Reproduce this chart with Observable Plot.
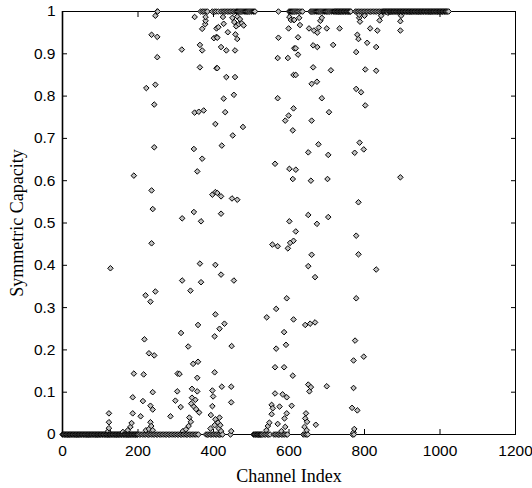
<!DOCTYPE html>
<html>
<head>
<meta charset="utf-8">
<script src="https://cdn.jsdelivr.net/npm/d3@7"></script>
<script src="https://cdn.jsdelivr.net/npm/@observablehq/plot@0.6"></script>
<style>
  html, body { margin: 0; padding: 0; background: #fff; }
  #chart svg { display: block; font-family: "Liberation Sans", Arial, sans-serif; }
  g[aria-label="x-axis label"] text, g[aria-label="y-axis label"] text {
    font-family: "Liberation Serif", "Times New Roman", serif; font-size: 18px;
  }
  g[aria-label="x-axis tick label"] text, g[aria-label="y-axis tick label"] text { font-size: 15.5px; }
</style>
</head>
<body>
<div id="chart"></div>
<script>
// Channel indices whose symmetric capacity sits at 0
const zeroIndex = [0,2,4,6,8,10,12,14,16,18,20,22,24,26,28,30,32,34,36,38,40,42,44,46,48,50,52,54,56,58,60,62,64,66,68,70,72,74,76,78,80,82,84,86,88,90,92,94,96,98,100,102,104,106,108,110,112,114,116,118,120,122,124,126,128,130,132,134,136,138,140,142,144,146,148,150,152,154,156,158,160,162,164,166,168,170,172,174,176,178,180,182,184,186,188,190,192,194,196,198,200,204,208,212,216,220,224,228,232,236,240,244,248,252,256,260,264,268,272,276,280,284,288,292,296,300,304,308,312,316,320,324,328,332,336,340,344,348,352,356,360,380,384,388,392,396,400,404,408,412,416,420,424,445,506,508,510,512,514,516,518,520,522,524,526,528,530,534,538,542,546,550,560,564,568,572,576,580,584,588,592,596,638,642,646,650,768,772];

// Channel indices whose symmetric capacity sits at 1
const oneIndex = [251,252,366,371,375,380,384,397,403,407,413,420,425,429,433,437,441,445,449,453,457,461,463,466,469,472,475,478,481,484,487,490,493,496,499,502,505,508,510,572,600,603,606,609,612,615,618,621,624,628,632,636,657,660,663,666,669,672,675,678,681,684,687,690,693,696,699,702,705,708,711,714,717,720,722,724,726,728,730,732,734,736,738,740,742,744,746,748,750,752,754,756,758,760,762,764,776,780,784,788,792,796,800,804,808,812,816,820,824,828,832,836,840,844,848,850,852,854,856,858,860,862,864,866,868,870,872,874,876,878,880,882,884,886,888,890,892,894,896,898,900,902,904,906,908,910,912,914,916,918,920,922,924,926,928,930,932,934,936,938,940,942,944,946,948,950,952,954,956,958,960,962,964,966,968,970,972,974,976,978,980,982,984,986,988,990,992,994,996,998,1000,1002,1004,1006,1008,1010,1012,1014,1016,1018,1020,1023];

// Channels with intermediate capacity: [index, capacity]
const midChannels = [
  [121,0.008],[123,0.015],[123,0.029],[123,0.050],[127,0.393],[160,0.006],[173,0.010],[180,0.018],[183,0.027],
  [186,0.050],[186,0.088],[189,0.144],[189,0.612],[207,0.043],[213,0.079],[215,0.142],[217,0.225],[220,0.329],
  [221,0.010],[222,0.819],[229,0.013],[229,0.192],[233,0.029],[233,0.068],[233,0.314],[235,0.020],[236,0.452],
  [236,0.577],[236,0.945],[239,0.010],[239,0.059],[239,0.100],[239,0.533],[243,0.187],[243,0.679],[243,0.780],
  [246,0.338],[246,0.827],[246,0.990],[251,0.892],[251,0.940],
  [286,0.043],[299,0.080],[304,0.102],[305,0.144],[310,0.143],[313,0.065],[314,0.240],[316,0.910],[317,0.364],
  [317,0.511],[319,0.008],[327,0.012],[333,0.208],[334,0.020],[336,0.040],[339,0.340],[340,0.030],[341,0.073],
  [343,0.087],[343,0.108],[346,0.167],[348,0.066],[348,0.526],[348,0.675],[350,0.761],[350,0.987],[352,0.082],
  [354,0.060],[357,0.102],[357,0.134],[357,0.622],[359,0.172],[359,0.259],[361,0.763],[362,0.052],[364,0.404],
  [364,0.868],[364,0.921],[367,0.360],[367,0.504],[370,0.652],[370,0.908],[370,0.959],[374,0.766],[378,0.970],
  [379,0.978],[379,0.987],[392,0.014],[393,0.046],[397,0.067],[397,0.104],[397,0.567],[399,0.090],[401,0.937],
  [403,0.022],[403,0.147],[403,0.232],[405,0.036],[405,0.284],[405,0.401],[405,0.573],[405,0.734],[408,0.866],
  [408,0.940],[408,0.960],
  [410,0.571],[410,0.866],[410,0.938],[412,0.028],[413,0.963],[414,0.014],[416,0.040],[416,0.250],[418,0.022],
  [420,0.008],[420,0.378],[420,0.522],[420,0.563],[420,0.916],[422,0.113],[422,0.683],[425,0.987],[427,0.794],
  [427,0.971],[429,0.262],[431,0.762],[434,0.845],[434,0.908],[438,0.951],[447,0.008],[447,0.076],[447,0.113],
  [448,0.209],[449,0.558],[450,0.985],[451,0.707],[454,0.364],[454,0.803],[455,0.975],[457,0.845],[457,0.908],
  [458,0.946],[460,0.965],[463,0.555],[463,0.935],[463,0.988],[467,0.970],[470,0.982],[475,0.972],[478,0.727],
  [480,0.967],
  [540,0.010],[541,0.277],[544,0.020],[548,0.028],[554,0.048],[554,0.070],[556,0.449],[557,0.062],[563,0.097],
  [563,0.159],[563,0.640],[566,0.203],[566,0.297],[570,0.025],[570,0.445],[570,0.795],[570,0.890],[572,0.938],
  [575,0.066],[580,0.008],[583,0.095],[587,0.159],[587,0.242],[588,0.038],[590,0.018],[590,0.742],[592,0.212],
  [594,0.050],[594,0.088],[594,0.322],[597,0.440],[597,0.890],[599,0.754],[599,0.960],[601,0.504],[601,0.628],
  [601,0.987],[603,0.453],[605,0.980],[607,0.068],[610,0.139],[610,0.604],[610,0.719],[612,0.272],[612,0.458],
  [612,0.771],[612,0.850],[612,0.980],[614,0.913],[614,0.980],
  [618,0.480],[618,0.626],[618,0.850],[618,0.913],[624,0.898],[624,0.939],[627,0.985],[629,0.968],[641,0.018],
  [643,0.038],[643,0.259],[645,0.050],[647,0.010],[648,0.030],[651,0.118],[651,0.398],[651,0.519],[651,0.667],
  [653,0.960],[654,0.102],[656,0.262],[658,0.112],[658,0.600],[660,0.425],[660,0.742],[660,0.829],[664,0.868],
  [664,0.920],[666,0.955],[669,0.265],[669,0.372],[671,0.023],[674,0.498],[674,0.834],[675,0.916],[675,0.950],
  [678,0.686],[679,0.962],[683,0.978],[687,0.795],[687,0.985],[700,0.114],[700,0.960],[702,0.604],[704,0.514],
  [704,0.661],[706,0.762],[711,0.861],[717,0.921],
  [734,0.960],[767,0.063],[771,0.005],[771,0.110],[771,0.175],[773,0.013],[774,0.666],[775,0.222],[778,0.322],
  [778,0.470],[778,0.817],[778,0.904],[781,0.057],[781,0.945],[784,0.426],[784,0.549],[784,0.935],[786,0.985],
  [786,0.992],[787,0.690],[788,0.976],[791,0.809],[798,0.184],[798,0.674],[800,0.990],[802,0.778],[802,0.863],
  [807,0.926],[815,0.960],[831,0.390],[831,0.860],[831,0.916],[834,0.955],[840,0.979],[844,0.990],[862,0.997],
  [895,0.608],[895,0.955],[895,0.977],[897,0.990]
];

const xTicks = [0, 200, 400, 600, 800, 1000, 1200];
const yTicks = [0, 0.1, 0.2, 0.3, 0.4, 0.5, 0.6, 0.7, 0.8, 0.9, 1];
const xLabel = "Channel Index";
const yLabel = "Symmetric Capacity";

const points = [
  ...zeroIndex.map(i => ({index: i, capacity: 0})),
  ...oneIndex.map(i => ({index: i, capacity: 1})),
  ...midChannels.map(([i, c]) => ({index: i, capacity: c}))
].sort((a, b) => a.index - b.index);

const fmt = d => String(+d.toFixed(1));

const chart = Plot.plot({
  width: 532,
  height: 488,
  marginLeft: 62,
  marginRight: 17,
  marginTop: 11,
  marginBottom: 54,
  style: {background: "#fff", color: "#000"},
  x: {domain: [0, 1200]},
  y: {domain: [0, 1]},
  marks: [
    Plot.frame({stroke: "#000", strokeWidth: 1}),
    Plot.axisX(xTicks, {anchor: "bottom", tickSize: -5, tickPadding: 15, tickFormat: fmt,
      label: xLabel, labelAnchor: "center", labelArrow: "none", labelOffset: 47}),
    Plot.axisX(xTicks, {anchor: "top", tickSize: -5, fill: "none", label: null}),
    Plot.axisY(yTicks, {anchor: "left", tickSize: -5, tickPadding: 12, tickFormat: fmt,
      label: yLabel, labelAnchor: "center", labelArrow: "none", labelOffset: 52}),
    Plot.axisY(yTicks, {anchor: "right", tickSize: -5, fill: "none", label: null}),
    Plot.ruleX([0], {stroke: "#000", strokeWidth: 1.6}),
    Plot.dot(points, {x: "index", y: "capacity", symbol: "diamond2", r: 2.5,
      fill: "#c0c0c0", stroke: "#000", strokeWidth: 1})
  ]
});
document.getElementById("chart").appendChild(chart);
</script>
</body>
</html>
